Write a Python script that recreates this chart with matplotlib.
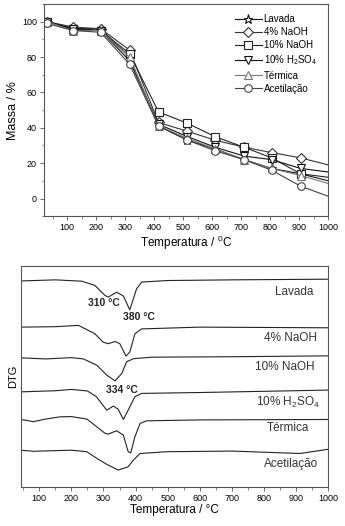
import matplotlib.pyplot as plt
from matplotlib.ticker import MultipleLocator

plt.rcParams['font.family'] = ['Liberation Sans', 'DejaVu Sans']
plt.rcParams['mathtext.fontset'] = 'custom'
plt.rcParams['mathtext.rm'] = 'Liberation Sans'
plt.rcParams['mathtext.it'] = 'Liberation Sans'

# ---- TGA data (top) ----
temp_tg = [30, 120, 215, 315, 415, 515, 610, 710, 805, 905, 1000]
lavada = [100, 96, 96, 80, 41, 33, 28, 22, 17, 14, 10]
naoh4 = [100, 97, 96, 84, 43, 38, 33, 29, 26, 23, 19]
naoh10 = [100, 96, 95, 82, 49, 42.5, 35, 29, 23, 14, 12]
h2so4 = [100, 96, 95, 78, 42, 35, 29, 24, 22, 17, 15]
termica = [100, 95, 95, 80, 41, 34, 28, 22, 17, 13, 8.5]
acetil = [99, 95, 94, 76, 41, 33, 27, 22, 16, 7, 1.3]

names = ['Lavada', '4% NaOH', '10% NaOH', r'10% H$_2$SO$_4$', 'Térmica', 'Acetilação']
tg_series = [lavada, naoh4, naoh10, h2so4, termica, acetil]
markers = ['*', 'D', 's', 'v', '^', 'o']
msizes = [6.5, 5, 5.5, 5.5, 5.5, 5.5]
colors = ['#111111', '#333333', '#222222', '#111111', '#777777', '#444444']

# ---- DTG data (bottom), arbitrary offset units ----
t_lav = [42, 150, 232, 273, 305, 315, 341, 362, 382, 403, 419, 500, 700, 1000]
d_lav = [93.3, 93.8, 93.2, 91.3, 86.7, 86.0, 88.2, 86.5, 80.2, 89.7, 92.8, 93.5, 93.8, 94.1]
t_n4 = [42, 150, 222, 273, 299, 315, 336, 351, 370, 382, 398, 419, 600, 1000]
d_n4 = [72.4, 72.6, 73.2, 69.4, 65.6, 64.9, 65.9, 64.9, 59.3, 61.1, 69.4, 71.6, 72.4, 72.1]
t_n10 = [42, 120, 200, 237, 279, 310, 336, 357, 372, 393, 450, 700, 1000]
d_n10 = [58.5, 58.0, 58.6, 58.0, 55.2, 50.7, 48.1, 51.4, 56.7, 58.1, 58.8, 59.0, 59.4]
t_h2 = [42, 150, 200, 250, 278, 310, 331, 346, 362, 382, 398, 419, 600, 1000]
d_h2 = [43.1, 43.6, 44.2, 43.5, 40.9, 34.8, 36.7, 35.2, 30.6, 36.3, 40.9, 42.4, 42.8, 43.9]
t_ter = [42, 60, 81, 120, 165, 200, 248, 279, 305, 315, 341, 362, 377, 385, 398, 414, 435, 600, 1000]
d_ter = [30.6, 30.2, 29.6, 30.8, 31.8, 31.9, 30.8, 27.3, 24.3, 24.0, 25.5, 23.5, 16.0, 15.5, 22.8, 28.8, 30.0, 30.4, 30.6]
t_ace = [42, 81, 200, 248, 279, 310, 346, 377, 393, 414, 497, 700, 912, 1000]
d_ace = [16.7, 16.2, 16.7, 16.0, 13.0, 10.3, 7.7, 9.2, 12.2, 15.2, 16.0, 16.3, 15.2, 17.1]

dtg_t = [t_lav, t_n4, t_n10, t_h2, t_ter, t_ace]
dtg_d = [d_lav, d_n4, d_n10, d_h2, d_ter, d_ace]
dtg_names = ['Lavada', '4% NaOH', '10% NaOH', r'10% H$_2$SO$_4$', 'Térmica', 'Acetilação']
label_x = [893, 884, 865, 875, 875, 884]
label_y = [88.2, 67.4, 54.3, 38.5, 26.7, 10.4]
peaks = ['310 °C', '380 °C', '334 °C']
peak_x = [300, 412, 357]
peak_y = [83.3, 76.9, 43.9]

fig = plt.figure(figsize=(3.45, 5.26), dpi=100)
ax1 = fig.add_axes([0.1275, 0.589, 0.8235, 0.4034])
ax2 = fig.add_axes([0.06, 0.074, 0.891, 0.420])

for s, n, m, ms, c in zip(tg_series, names, markers, msizes, colors):
    ax1.plot(temp_tg, s, color=c, lw=0.8, marker=m, ms=ms, mfc='white',
             mec=c, mew=0.8, markevery=list(range(10)), label=n)
ax1.set_xlim(20, 1000)
ax1.set_ylim(-10, 110)
ax1.set_xticks(range(100, 1001, 100))
ax1.set_yticks(range(0, 101, 20))
ax1.xaxis.set_minor_locator(MultipleLocator(50))
ax1.yaxis.set_minor_locator(MultipleLocator(10))
ax1.set_xlabel(r'Temperatura / $^{0}$C', fontsize=8.5, labelpad=1)
ax1.set_ylabel('Massa / %', fontsize=9, labelpad=2)
ax1.legend(loc='upper right', bbox_to_anchor=(0.985, 0.985), frameon=False,
           fontsize=7, handlelength=2.8, handletextpad=0.2,
           labelspacing=0.33, borderaxespad=0.3)

for t, d in zip(dtg_t, dtg_d):
    ax2.plot(t, d, color='#222222', lw=0.8)
for n, x, y in zip(dtg_names, label_x, label_y):
    ax2.text(x, y, n, ha='center', va='center', fontsize=8.5, color='#333333')
for p, x, y in zip(peaks, peak_x, peak_y):
    ax2.text(x, y, p, ha='center', va='center', fontsize=7.5, fontweight='bold', color='#222222')
ax2.set_xlim(42, 1000)
ax2.set_ylim(0, 100)
ax2.set_yticks([])
ax2.set_xticks(range(100, 1001, 100))
ax2.xaxis.set_minor_locator(MultipleLocator(50))
ax2.set_xlabel('Temperatura / °C', fontsize=8.5, labelpad=1)
ax2.set_ylabel('DTG', fontsize=8, labelpad=2)

for ax in (ax1, ax2):
    for sp in ax.spines.values():
        sp.set_color('#555555')
        sp.set_linewidth(0.8)
    ax.tick_params(which='major', direction='out', length=3, width=0.6,
                   labelsize=6.5, pad=2, color='#555555')
    ax.tick_params(which='minor', direction='out', length=1.8, width=0.5, color='#555555')

fig.savefig('out.png', dpi=100)
